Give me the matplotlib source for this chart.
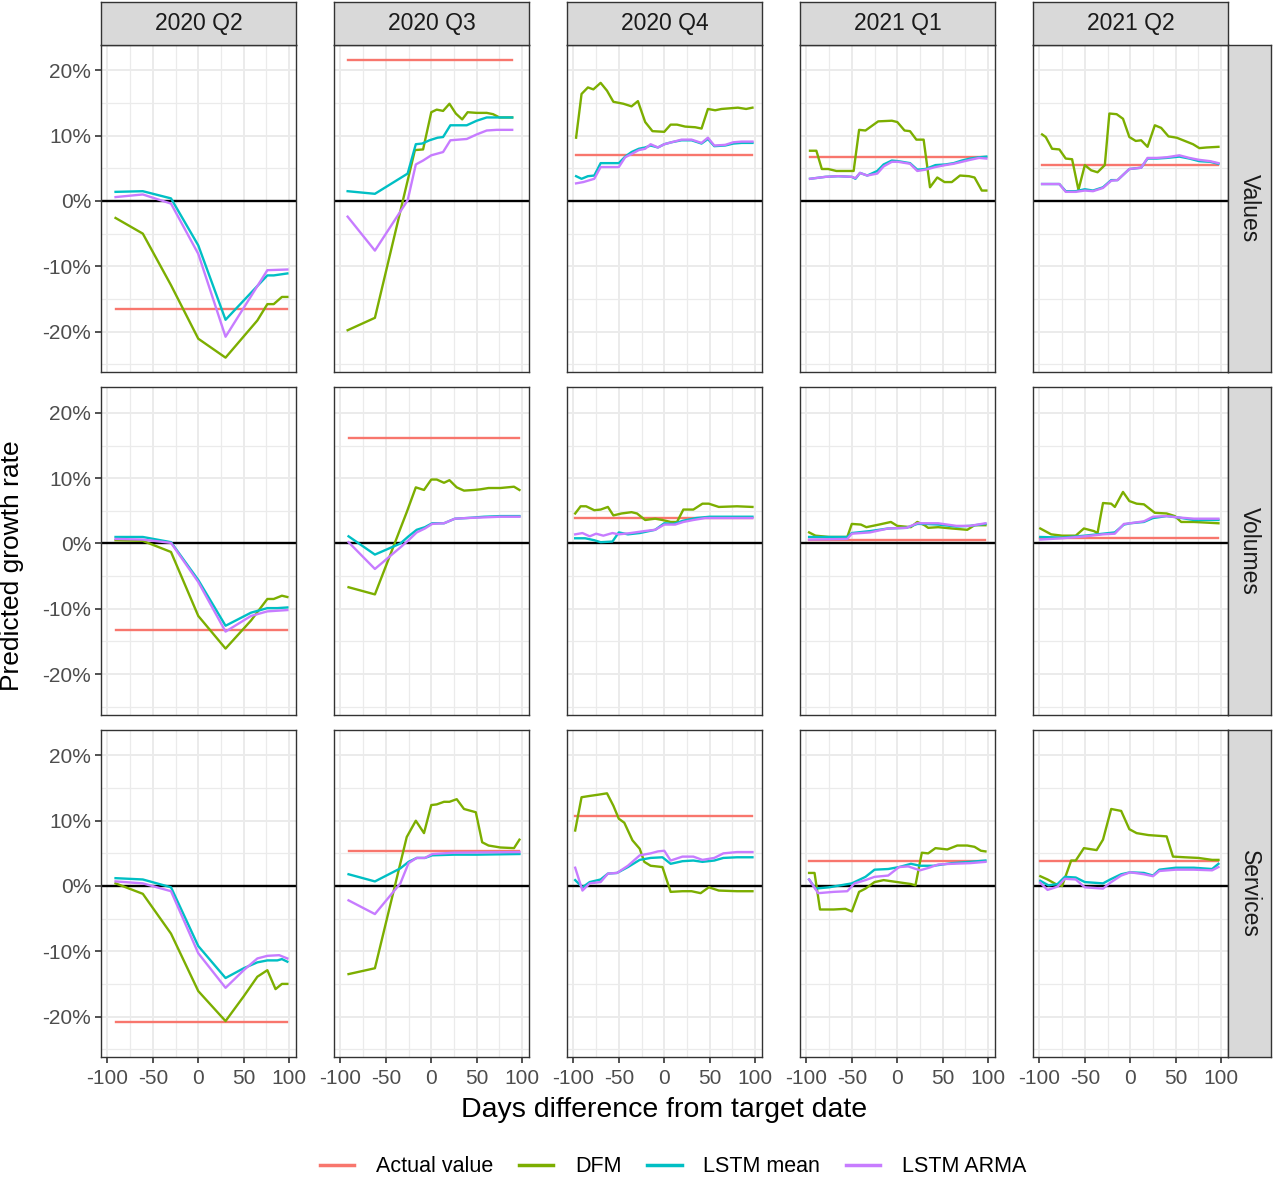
import matplotlib.pyplot as plt
from matplotlib.lines import Line2D
from matplotlib.ticker import MultipleLocator, FixedLocator

plt.rcParams['font.family'] = ['Liberation Sans', 'DejaVu Sans']

quarters = ["2020 Q2", "2020 Q3", "2020 Q4", "2021 Q1", "2021 Q2"]
measures = ["Values", "Volumes", "Services"]
models = ["Actual value", "DFM", "LSTM mean", "LSTM ARMA"]
colors = ["#F8766D", "#7CAE00", "#00BFC4", "#C77CFF"]

# actual growth rate (%) per quarter
actual_values = [-16.5, 21.6, 7.1, 6.7, 5.5]
actual_volumes = [-13.3, 16.2, 3.9, 0.6, 0.8]
actual_services = [-20.8, 5.3, 10.8, 3.8, 3.9]

# (days from target date, predicted growth %)
# --- Values ---
val_20q2_dfm = [(-91, -2.6), (-61, -5.0), (-30, -12.9), (0, -21.1), (30, -24.0), (65, -18.3), (76, -15.8), (83, -15.8), (92, -14.7), (98, -14.7)]
val_20q2_mean = [(-91, 1.4), (-61, 1.5), (-30, 0.4), (0, -6.8), (30, -18.2), (76, -11.4), (83, -11.4), (98, -11.1)]
val_20q2_arma = [(-91, 0.6), (-61, 1.0), (-30, -0.4), (0, -8.1), (30, -20.8), (76, -10.6), (98, -10.5)]

val_20q3_dfm = [(-92, -19.8), (-62, -17.9), (-18, 7.8), (-9, 7.9), (0, 13.6), (6, 14.0), (13, 13.8), (20, 14.9), (27, 13.4), (34, 12.5), (40, 13.6), (50, 13.5), (61, 13.5), (68, 13.3), (75, 12.8), (89, 12.8)]
val_20q3_mean = [(-92, 1.5), (-62, 1.1), (-26, 4.2), (-17, 8.7), (-10, 8.8), (-2, 9.3), (7, 9.7), (13, 9.8), (21, 11.6), (39, 11.6), (50, 12.3), (61, 12.8), (89, 12.8)]
val_20q3_arma = [(-92, -2.4), (-62, -7.6), (-26, 0.1), (-17, 5.6), (-9, 6.2), (0, 7.0), (13, 7.5), (21, 9.3), (39, 9.5), (50, 10.2), (61, 10.8), (72, 10.9), (89, 10.9)]

val_20q4_dfm = [(-97, 9.7), (-91, 16.4), (-84, 17.4), (-78, 17.1), (-70, 18.1), (-63, 16.9), (-56, 15.2), (-45, 14.9), (-36, 14.5), (-29, 15.3), (-21, 12.1), (-13, 10.7), (0, 10.6), (7, 11.7), (14, 11.7), (23, 11.4), (34, 11.3), (41, 11.1), (48, 14.1), (56, 13.9), (63, 14.1), (81, 14.3), (90, 14.1), (97, 14.3)]
val_20q4_mean = [(-97, 3.8), (-91, 3.4), (-84, 3.8), (-77, 3.9), (-70, 5.8), (-50, 5.8), (-43, 6.8), (-36, 7.5), (-28, 8.0), (-21, 8.2), (-15, 8.5), (-7, 8.2), (0, 8.7), (8, 9.0), (19, 9.3), (30, 9.3), (41, 8.8), (48, 9.5), (55, 8.4), (67, 8.5), (76, 8.8), (85, 8.9), (97, 8.9)]
val_20q4_arma = [(-97, 2.7), (-89, 2.9), (-77, 3.4), (-70, 5.2), (-50, 5.2), (-43, 6.7), (-36, 7.2), (-28, 7.8), (-21, 8.0), (-15, 8.7), (-7, 8.2), (0, 8.7), (8, 9.0), (19, 9.4), (30, 9.4), (41, 8.9), (48, 9.7), (55, 8.5), (67, 8.6), (76, 9.0), (85, 9.1), (97, 9.1)]

val_21q1_dfm = [(-96, 7.7), (-89, 7.7), (-83, 4.9), (-76, 4.9), (-67, 4.6), (-48, 4.6), (-42, 10.9), (-35, 10.8), (-21, 12.2), (-6, 12.3), (0, 12.1), (8, 10.8), (14, 10.7), (21, 9.4), (29, 9.4), (36, 2.1), (44, 3.6), (52, 2.9), (60, 2.9), (69, 3.9), (79, 3.8), (85, 3.6), (93, 1.6), (98, 1.6)]
val_21q1_mean = [(-96, 3.4), (-79, 3.7), (-65, 3.8), (-50, 3.7), (-46, 3.4), (-41, 4.3), (-33, 3.9), (-22, 4.6), (-15, 5.6), (-6, 6.2), (1, 6.1), (14, 5.8), (22, 4.8), (31, 4.9), (42, 5.5), (53, 5.6), (62, 5.8), (71, 6.2), (80, 6.5), (90, 6.7), (98, 6.8)]
val_21q1_arma = [(-96, 3.4), (-79, 3.7), (-65, 3.8), (-50, 3.7), (-46, 3.5), (-41, 4.3), (-33, 3.9), (-22, 4.2), (-15, 5.3), (-6, 6.0), (1, 6.0), (14, 5.7), (22, 4.6), (31, 4.8), (42, 5.2), (53, 5.5), (62, 5.7), (71, 6.0), (80, 6.3), (90, 6.6), (98, 6.5)]

val_21q2_dfm = [(-97, 10.2), (-93, 9.8), (-86, 8.0), (-78, 7.9), (-71, 6.5), (-64, 6.4), (-57, 1.7), (-50, 5.5), (-43, 4.7), (-36, 4.4), (-28, 5.5), (-23, 13.4), (-15, 13.3), (-8, 12.6), (-1, 9.8), (6, 9.2), (12, 9.3), (19, 8.3), (27, 11.6), (34, 11.2), (42, 9.9), (51, 9.7), (60, 9.2), (69, 8.7), (76, 8.1), (84, 8.2), (97, 8.3)]
val_21q2_mean = [(-97, 2.6), (-78, 2.6), (-71, 1.5), (-60, 1.5), (-50, 1.8), (-41, 1.6), (-30, 2.1), (-21, 3.2), (-14, 3.2), (-1, 4.9), (12, 5.1), (19, 6.5), (29, 6.5), (40, 6.6), (54, 6.8), (65, 6.5), (76, 6.1), (88, 6.0), (97, 5.7)]
val_21q2_arma = [(-97, 2.6), (-78, 2.6), (-71, 1.4), (-60, 1.4), (-50, 1.6), (-41, 1.5), (-30, 2.0), (-21, 3.1), (-14, 3.2), (-1, 4.9), (12, 5.1), (19, 6.6), (29, 6.6), (40, 6.7), (54, 7.0), (65, 6.6), (76, 6.3), (88, 6.1), (97, 5.8)]

# --- Volumes ---
vol_20q2_dfm = [(-91, 0.5), (-61, 0.4), (-30, -1.3), (0, -11.1), (30, -16.1), (58, -11.8), (76, -8.5), (83, -8.5), (92, -8.0), (98, -8.2)]
vol_20q2_mean = [(-91, 1.0), (-61, 1.0), (-30, 0.2), (0, -5.6), (30, -12.6), (58, -10.6), (76, -9.9), (87, -9.9), (98, -9.8)]
vol_20q2_arma = [(-91, 0.7), (-61, 0.6), (-30, 0.1), (0, -5.9), (30, -13.5), (58, -11.1), (76, -10.4), (87, -10.3), (98, -10.2)]

vol_20q3_dfm = [(-91, -6.7), (-62, -7.8), (-27, 4.8), (-17, 8.6), (-8, 8.2), (0, 9.8), (6, 9.8), (14, 9.3), (20, 9.7), (28, 8.6), (36, 8.1), (47, 8.2), (54, 8.3), (63, 8.5), (76, 8.5), (91, 8.7), (97, 8.2)]
vol_20q3_mean = [(-91, 1.1), (-62, -1.7), (-34, 0.0), (-25, 1.1), (-16, 2.1), (-7, 2.5), (1, 3.1), (14, 3.1), (26, 3.8), (39, 3.9), (58, 4.1), (76, 4.2), (97, 4.2)]
vol_20q3_arma = [(-91, 0.2), (-62, -3.9), (-34, -0.6), (-25, 0.5), (-16, 1.7), (-7, 2.3), (1, 3.0), (14, 3.1), (26, 3.8), (39, 3.9), (58, 4.0), (76, 4.1), (97, 4.1)]

vol_20q4_dfm = [(-98, 4.6), (-92, 5.7), (-86, 5.7), (-77, 5.1), (-70, 5.2), (-62, 5.6), (-56, 4.3), (-47, 4.6), (-36, 4.8), (-30, 4.6), (-21, 3.6), (-10, 3.8), (-2, 3.6), (7, 3.3), (14, 3.3), (21, 5.2), (32, 5.2), (42, 6.1), (49, 6.1), (60, 5.6), (80, 5.7), (97, 5.6)]
vol_20q4_mean = [(-98, 0.8), (-87, 0.8), (-77, 0.5), (-70, 0.2), (-57, 0.3), (-50, 1.7), (-40, 1.4), (-27, 1.6), (-10, 2.1), (0, 3.1), (10, 3.0), (21, 3.5), (35, 3.9), (50, 4.1), (70, 4.1), (97, 4.1)]
vol_20q4_arma = [(-98, 1.4), (-90, 1.6), (-82, 1.1), (-75, 1.5), (-67, 1.2), (-57, 1.6), (-50, 1.4), (-37, 1.6), (-22, 1.9), (-10, 2.1), (0, 2.9), (12, 2.9), (21, 3.3), (32, 3.6), (45, 3.9), (70, 3.9), (97, 3.9)]

vol_21q1_dfm = [(-97, 1.7), (-90, 1.2), (-75, 1.0), (-55, 1.0), (-50, 3.0), (-40, 2.9), (-34, 2.5), (-20, 2.9), (-7, 3.3), (0, 2.7), (15, 2.5), (22, 3.3), (30, 2.8), (34, 2.4), (45, 2.5), (60, 2.3), (77, 2.1), (85, 2.8), (97, 2.8)]
vol_21q1_mean = [(-97, 1.0), (-55, 1.0), (-50, 1.6), (-30, 1.9), (-10, 2.3), (10, 2.4), (22, 3.0), (30, 3.0), (45, 2.9), (65, 2.6), (80, 2.7), (97, 3.0)]
vol_21q1_arma = [(-97, 0.6), (-55, 0.7), (-50, 1.5), (-30, 1.7), (-10, 2.3), (10, 2.4), (22, 3.1), (45, 3.1), (65, 2.7), (80, 2.7), (97, 3.1)]

vol_21q2_dfm = [(-99, 2.3), (-87, 1.4), (-75, 1.2), (-60, 1.2), (-51, 2.3), (-40, 1.9), (-36, 1.6), (-30, 6.2), (-21, 6.1), (-17, 5.6), (-8, 7.9), (-1, 6.5), (7, 6.1), (15, 6.0), (27, 4.7), (40, 4.6), (49, 4.2), (56, 3.3), (70, 3.3), (97, 3.1)]
vol_21q2_mean = [(-99, 1.0), (-75, 0.9), (-50, 1.2), (-30, 1.5), (-17, 1.7), (-7, 2.9), (0, 3.1), (15, 3.3), (25, 3.9), (40, 4.2), (52, 4.0), (70, 3.6), (97, 3.6)]
vol_21q2_arma = [(-99, 0.6), (-75, 0.8), (-50, 1.1), (-30, 1.4), (-17, 1.5), (-7, 3.0), (0, 3.1), (15, 3.4), (25, 4.1), (40, 4.2), (52, 4.0), (70, 3.8), (97, 3.8)]

# --- Services ---
srv_20q2_dfm = [(-91, 0.4), (-61, -1.2), (-30, -7.3), (0, -16.1), (30, -20.7), (50, -16.9), (65, -13.9), (76, -12.9), (85, -15.8), (92, -15.0), (98, -15.0)]
srv_20q2_mean = [(-91, 1.2), (-61, 1.0), (-30, -0.2), (0, -9.2), (30, -14.1), (50, -12.6), (65, -11.7), (76, -11.4), (87, -11.4), (92, -11.2), (98, -11.6)]
srv_20q2_arma = [(-91, 0.7), (-61, 0.4), (-30, -0.8), (0, -10.3), (30, -15.6), (50, -12.9), (65, -11.1), (76, -10.7), (89, -10.6), (98, -11.1)]

srv_20q3_dfm = [(-91, -13.5), (-62, -12.6), (-27, 7.5), (-17, 10.0), (-8, 8.1), (0, 12.4), (6, 12.5), (14, 12.9), (20, 12.9), (28, 13.3), (36, 11.8), (49, 11.3), (56, 6.7), (63, 6.2), (76, 5.9), (91, 5.8), (97, 7.1)]
srv_20q3_mean = [(-91, 1.8), (-62, 0.7), (-34, 2.7), (-25, 3.7), (-16, 4.3), (-7, 4.3), (1, 4.7), (25, 4.8), (50, 4.8), (97, 4.9)]
srv_20q3_arma = [(-91, -2.2), (-62, -4.3), (-34, 0.4), (-25, 3.5), (-16, 4.3), (-7, 4.3), (1, 4.9), (25, 5.1), (97, 5.2)]

srv_20q4_dfm = [(-98, 8.5), (-91, 13.6), (-82, 13.8), (-72, 14.0), (-63, 14.2), (-56, 12.3), (-50, 10.3), (-44, 9.7), (-35, 7.0), (-27, 5.7), (-22, 3.7), (-15, 3.1), (-2, 2.9), (7, -0.9), (20, -0.8), (30, -0.8), (40, -1.1), (49, -0.2), (60, -0.7), (80, -0.8), (97, -0.8)]
srv_20q4_mean = [(-98, 0.9), (-90, -0.2), (-82, 0.6), (-70, 1.0), (-62, 1.9), (-52, 2.0), (-40, 2.9), (-27, 4.0), (-15, 4.3), (-2, 4.4), (7, 3.4), (20, 3.8), (32, 3.9), (42, 3.7), (55, 3.9), (65, 4.3), (80, 4.4), (97, 4.4)]
srv_20q4_arma = [(-98, 2.8), (-90, -0.7), (-82, 0.4), (-70, 0.6), (-62, 1.9), (-52, 2.0), (-40, 3.1), (-27, 4.7), (-15, 5.0), (-7, 5.3), (0, 5.4), (7, 3.9), (20, 4.5), (32, 4.5), (42, 4.0), (55, 4.3), (65, 5.0), (80, 5.2), (97, 5.2)]

srv_21q1_dfm = [(-97, 2.0), (-91, 2.0), (-85, -3.6), (-70, -3.6), (-57, -3.5), (-50, -3.9), (-42, -0.9), (-35, -0.4), (-25, 0.6), (-15, 0.9), (0, 0.6), (15, 0.3), (20, 0.1), (27, 5.1), (34, 5.0), (42, 5.8), (55, 5.6), (66, 6.2), (77, 6.2), (85, 6.0), (92, 5.4), (97, 5.3)]
srv_21q1_mean = [(-97, 1.0), (-90, -0.4), (-75, -0.2), (-50, 0.4), (-35, 1.4), (-25, 2.5), (-10, 2.6), (2, 2.9), (15, 3.4), (25, 3.1), (40, 3.1), (60, 3.5), (80, 3.7), (97, 3.9)]
srv_21q1_arma = [(-97, 1.0), (-87, -1.1), (-70, -0.9), (-55, -0.8), (-47, 0.4), (-35, 0.9), (-25, 1.4), (-10, 1.6), (2, 2.9), (12, 3.0), (25, 2.4), (35, 2.8), (45, 3.3), (60, 3.4), (80, 3.5), (97, 3.7)]

srv_21q2_dfm = [(-99, 1.5), (-91, 1.0), (-82, 0.3), (-75, 0.0), (-65, 3.9), (-60, 3.9), (-51, 5.8), (-37, 5.5), (-30, 7.1), (-21, 11.8), (-10, 11.5), (-1, 8.7), (7, 8.1), (20, 7.8), (30, 7.7), (40, 7.6), (47, 4.5), (60, 4.4), (75, 4.3), (90, 4.0), (97, 4.0)]
srv_21q2_mean = [(-99, 0.8), (-90, 0.1), (-80, 0.3), (-72, 1.4), (-60, 1.3), (-50, 0.6), (-30, 0.4), (-22, 1.0), (-10, 1.8), (0, 2.1), (15, 2.0), (25, 1.6), (32, 2.5), (50, 2.8), (70, 2.8), (90, 2.6), (97, 3.4)]
srv_21q2_arma = [(-99, 0.5), (-91, -0.6), (-80, -0.1), (-72, 1.1), (-60, 1.0), (-50, -0.2), (-30, -0.4), (-22, 0.5), (-10, 1.6), (0, 2.1), (15, 1.8), (25, 1.5), (32, 2.3), (50, 2.5), (70, 2.5), (90, 2.4), (97, 2.9)]

actuals = [actual_values, actual_volumes, actual_services]
series = [
    [(val_20q2_dfm, val_20q2_mean, val_20q2_arma), (val_20q3_dfm, val_20q3_mean, val_20q3_arma),
     (val_20q4_dfm, val_20q4_mean, val_20q4_arma), (val_21q1_dfm, val_21q1_mean, val_21q1_arma),
     (val_21q2_dfm, val_21q2_mean, val_21q2_arma)],
    [(vol_20q2_dfm, vol_20q2_mean, vol_20q2_arma), (vol_20q3_dfm, vol_20q3_mean, vol_20q3_arma),
     (vol_20q4_dfm, vol_20q4_mean, vol_20q4_arma), (vol_21q1_dfm, vol_21q1_mean, vol_21q1_arma),
     (vol_21q2_dfm, vol_21q2_mean, vol_21q2_arma)],
    [(srv_20q2_dfm, srv_20q2_mean, srv_20q2_arma), (srv_20q3_dfm, srv_20q3_mean, srv_20q3_arma),
     (srv_20q4_dfm, srv_20q4_mean, srv_20q4_arma), (srv_21q1_dfm, srv_21q1_mean, srv_21q1_arma),
     (srv_21q2_dfm, srv_21q2_mean, srv_21q2_arma)],
]

# layout in pixels
W, H = 1273, 1178
col_left = [101, 334, 567, 800, 1033]
row_top = [45, 387.5, 730]
pw, ph = 195, 327
border = '#333333'
lw = 1.7

fig = plt.figure(figsize=(W / 100, H / 100), dpi=100)


def px_axes(x0, y0, w, h):
    return fig.add_axes([x0 / W, 1 - (y0 + h) / H, w / W, h / H])


for r in range(3):
    for c in range(5):
        ax = px_axes(col_left[c], row_top[r], pw, ph)
        ax.set_xlim(-107, 107.5)
        ax.set_ylim(-26.2, 23.9)
        ax.xaxis.set_major_locator(FixedLocator([-100, -50, 0, 50, 100]))
        ax.xaxis.set_minor_locator(FixedLocator([-75, -25, 25, 75]))
        ax.yaxis.set_major_locator(MultipleLocator(10))
        ax.yaxis.set_minor_locator(FixedLocator([-25, -15, -5, 5, 15]))
        ax.grid(True, which='major', color='#EBEBEB', linewidth=1.4)
        ax.grid(True, which='minor', color='#EBEBEB', linewidth=0.9)
        ax.set_axisbelow(True)
        for s in ax.spines.values():
            s.set_color(border)
            s.set_linewidth(1.0)
            s.set_zorder(5)
        ax.tick_params(which='major', length=4, width=1.2, color=border,
                       labelsize=15, labelcolor='#4D4D4D', pad=3)
        ax.tick_params(which='minor', length=0)
        if c == 0:
            ax.set_yticklabels([f"{v:.0f}%" for v in ax.get_yticks()])
        else:
            ax.tick_params(axis='y', labelleft=False, length=0)
        if r == 2:
            ax.set_xticklabels(["-100", "-50", "0", "50", "100"])
            ax.tick_params(axis='x', pad=5)
        else:
            ax.tick_params(axis='x', labelbottom=False, length=0)

        ax.axhline(0, color='black', linewidth=1.7, zorder=2)
        dfm, mean, arma = series[r][c]
        days = [d for d, _ in dfm + mean + arma]
        ax.plot([min(days), max(days)], [actuals[r][c]] * 2, color=colors[0], linewidth=lw, zorder=3)
        for data, col in zip((dfm, mean, arma), colors[1:]):
            ax.plot([d for d, _ in data], [v for _, v in data], color=col, linewidth=lw, zorder=3)

        if r == 0:
            sax = px_axes(col_left[c], 2, pw, 43)
            sax.set_facecolor('#D9D9D9')
            sax.set_xticks([])
            sax.set_yticks([])
            for s in sax.spines.values():
                s.set_color(border)
                s.set_linewidth(1.0)
            sax.text(0.5, 0.5, quarters[c], ha='center', va='center', fontsize=16.5,
                     color='#1A1A1A', transform=sax.transAxes)
        if c == 4:
            sax = px_axes(col_left[c] + pw, row_top[r], 43, ph)
            sax.set_facecolor('#D9D9D9')
            sax.set_xticks([])
            sax.set_yticks([])
            for s in sax.spines.values():
                s.set_color(border)
                s.set_linewidth(1.0)
            sax.text(0.5, 0.5, measures[r], ha='center', va='center', fontsize=16.5,
                     rotation=-90, color='#1A1A1A', transform=sax.transAxes)

fig.text(12 / W, 1 - 566 / H, "Predicted growth rate", rotation=90, ha='center', va='center', fontsize=19)
fig.text(664 / W, 1 - 1110 / H, "Days difference from target date", ha='center', va='center', fontsize=20.5)

handles = [Line2D([], [], color=col, linewidth=2.5) for col in colors]
fig.legend(handles, models, loc='center', bbox_to_anchor=(673 / W, 1 - 1167 / H), ncol=4,
           frameon=False, fontsize=15.5, handlelength=1.6, handletextpad=1.0, columnspacing=1.2)

fig.savefig('out.png', dpi=100)
